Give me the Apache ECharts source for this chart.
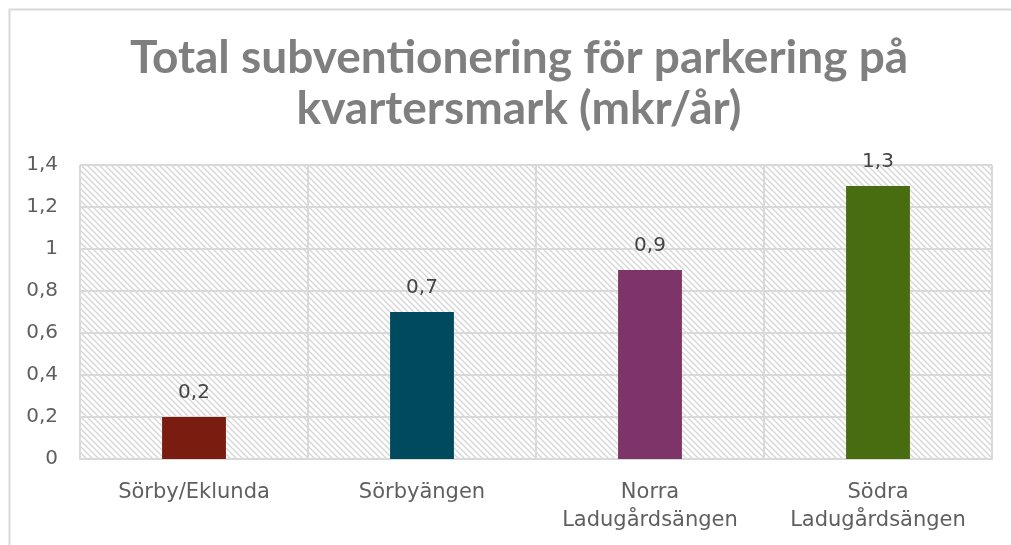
<!DOCTYPE html>
<html>
<head>
<meta charset="utf-8">
<script src="https://cdn.jsdelivr.net/npm/echarts@6/dist/echarts.min.js"></script>
<style>
  html, body { margin: 0; padding: 0; background: #fff; }
  #chart { width: 1011px; height: 545px; }
</style>
</head>
<body>
<div id="chart"></div>
<script>
const categories = ["Sörby/Eklunda", "Sörbyängen", "Norra\nLadugårdsängen", "Södra\nLadugårdsängen"];
const values = [0.2, 0.7, 0.9, 1.3];
const barColors = ["#7a1c10", "#004a5d", "#7d3569", "#486c10"];
const yTicks = [0, 0.2, 0.4, 0.6, 0.8, 1, 1.2, 1.4];

const fmt = v => String(Math.round(v * 10) / 10).replace(".", ",");

// diagonal hatch tile for the plot background
function hatchTile() {
  const c = document.createElement("canvas");
  c.width = 6;
  c.height = 6;
  const ctx = c.getContext("2d");
  ctx.strokeStyle = "#d6d6d6";
  ctx.lineWidth = 1.4;
  ctx.beginPath();
  ctx.moveTo(-1, -1); ctx.lineTo(7, 7);
  ctx.moveTo(-4, 2); ctx.lineTo(2, 8);
  ctx.moveTo(4, -2); ctx.lineTo(8, 2);
  ctx.stroke();
  return c;
}

const chart = echarts.init(document.getElementById("chart"));
const titleFont = "Lato";
const font = "DejaVu Sans";

const option = {
  backgroundColor: "#fff",
  animation: false,
  title: {
    text: "Total subventionering för parkering på\nkvartersmark (mkr/år)",
    left: 514,
    textAlign: "center",
    top: 28,
    textStyle: {
      fontFamily: titleFont,
      fontWeight: "bold",
      fontSize: 46,
      lineHeight: 51,
      color: "#7f7f7f",
    },
  },
  graphic: [
    {
      type: "rect",
      left: 7,
      top: 7,
      shape: { width: 2000, height: 2000 },
      style: { fill: "none", stroke: "#d9d9d9", lineWidth: 2 },
      silent: true,
    },
  ],
  grid: {
    left: 80,
    right: 19,
    top: 165,
    bottom: 86,
    show: true,
    borderWidth: 0,
    backgroundColor: { image: hatchTile(), repeat: "repeat" },
  },
  xAxis: {
    type: "category",
    data: categories,
    axisLine: { show: true, lineStyle: { color: "#d9d9d9", width: 2 } },
    axisTick: { show: false },
    splitLine: { show: true, lineStyle: { color: "#d9d9d9", width: 2 } },
    axisLabel: {
      fontFamily: font,
      fontSize: 21,
      lineHeight: 28,
      color: "#5f5f5f",
      margin: 20,
      interval: 0,
    },
  },
  yAxis: {
    type: "value",
    min: yTicks[0],
    max: yTicks[yTicks.length - 1],
    interval: 0.2,
    axisLine: { show: false },
    axisTick: { show: false },
    splitLine: { show: true, lineStyle: { color: "#d9d9d9", width: 2 } },
    axisLabel: {
      fontFamily: font,
      fontSize: 20,
      color: "#5f5f5f",
      margin: 22,
      formatter: fmt,
    },
  },
  series: [
    {
      type: "bar",
      barWidth: "28%",
      data: values.map((v, i) => ({ value: v, itemStyle: { color: barColors[i] } })),
      label: {
        show: true,
        position: "top",
        distance: 14,
        fontFamily: font,
        fontSize: 20,
        color: "#444",
        formatter: p => fmt(p.value),
      },
    },
  ],
};

chart.setOption(option);
</script>
</body>
</html>
